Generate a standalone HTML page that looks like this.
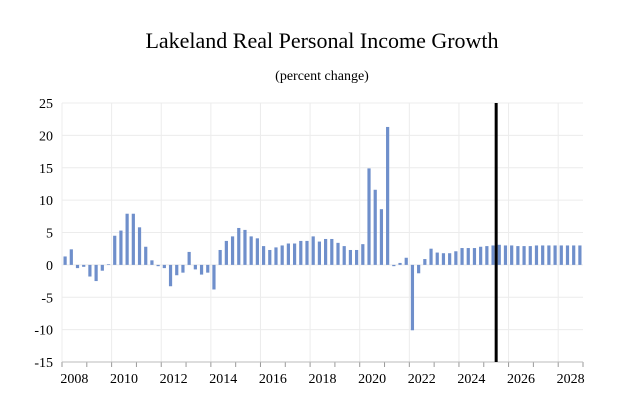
<!DOCTYPE html>
<html><head><meta charset="utf-8"><style>
body{margin:0;background:#fff;}
svg{display:block;font-family:"Liberation Serif",serif;}
</style></head><body>
<svg id="chart" width="627" height="414">
<text x="322" y="48" text-anchor="middle" font-size="22">Lakeland Real Personal Income Growth</text>
<text x="322" y="80" text-anchor="middle" font-size="14">(percent change)</text>
<g id="grid"></g><g id="bars"></g><g id="axes"></g>
</svg>
<script>
const years=[2008,2010,2012,2014,2016,2018,2020,2022,2024,2026,2028];
const yTicks=[25,20,15,10,5,0,-5,-10,-15];
const values=[1.3,2.4,-0.5,-0.3,-1.8,-2.5,-0.9,0.1,4.5,5.3,7.9,7.9,5.8,2.8,0.7,-0.2,-0.5,-3.3,-1.6,-1.2,2.0,-0.7,-1.5,-1.2,-3.8,2.3,3.7,4.4,5.7,5.4,4.4,4.1,2.9,2.3,2.7,3.0,3.3,3.3,3.7,3.7,
4.4,3.6,4.0,4.0,3.4,2.9,2.3,2.3,3.2,14.9,11.6,8.6,21.3,-0.2,0.3,1.1,-10.1,-1.3,0.9,2.5,1.9,1.8,1.8,2.1,2.6,2.6,2.6,2.8,2.9,3.0,3.1,3.0,3.0,2.9,2.9,2.9,3.0,3.0,3.0,3.0,3.0,3.0,3.0,3.0];
const forecastStart=2025.5;
const startYear=2008,endYear=2029;
const X0=62,X1=583,Y0=103,Y1=362;
const xs=t=>X0+(t-startYear)/(endYear-startYear)*(X1-X0);
const ys=v=>Y0+(25-v)/40*(Y1-Y0);
const NS="http://www.w3.org/2000/svg";
function mk(tag,attrs,parent){const e=document.createElementNS(NS,tag);for(const k in attrs)e.setAttribute(k,attrs[k]);document.getElementById(parent).appendChild(e);return e;}
yTicks.forEach(v=>{
 const l=mk('line',{x1:X0,x2:X1,y1:ys(v),y2:ys(v),stroke:'#ececec'},'grid');
 
 
 const t=mk('text',{x:53,y:ys(v)+5,'text-anchor':'end','font-size':14},'axes');
 t.textContent=v;
 
 
});
years.forEach(y=>{
 const l=mk('line',{x1:xs(y),x2:xs(y),y1:Y0,y2:Y1,stroke:'#ececec'},'grid');
 
 
 const t=mk('text',{x:xs(y+0.5),y:383,'text-anchor':'middle','font-size':14},'axes');
 t.textContent=y;
 
 
});
for(let y=startYear;y<=endYear;y++){
 const tk=mk('line',{x1:xs(y),x2:xs(y),y1:Y1,y2:Y1+5,stroke:'#999'},'axes');
 
 
}
const ax=mk('line',{x1:X0,x2:X1,y1:Y1,y2:Y1,stroke:'#bbb'},'axes');


values.forEach((v,i)=>{
 const cx=xs(startYear+(i+0.5)/4);
 const r=mk('rect',{x:cx-1.6,width:3.2,y:Math.min(ys(v),ys(0)),height:Math.max(0.6,Math.abs(ys(v)-ys(0))),fill:'#6f8fcb'},'bars');
 
 
});
const fl=mk('line',{x1:xs(forecastStart),x2:xs(forecastStart),y1:Y0,y2:Y1,stroke:'#000','stroke-width':3},'axes');


</script>
</body></html>
